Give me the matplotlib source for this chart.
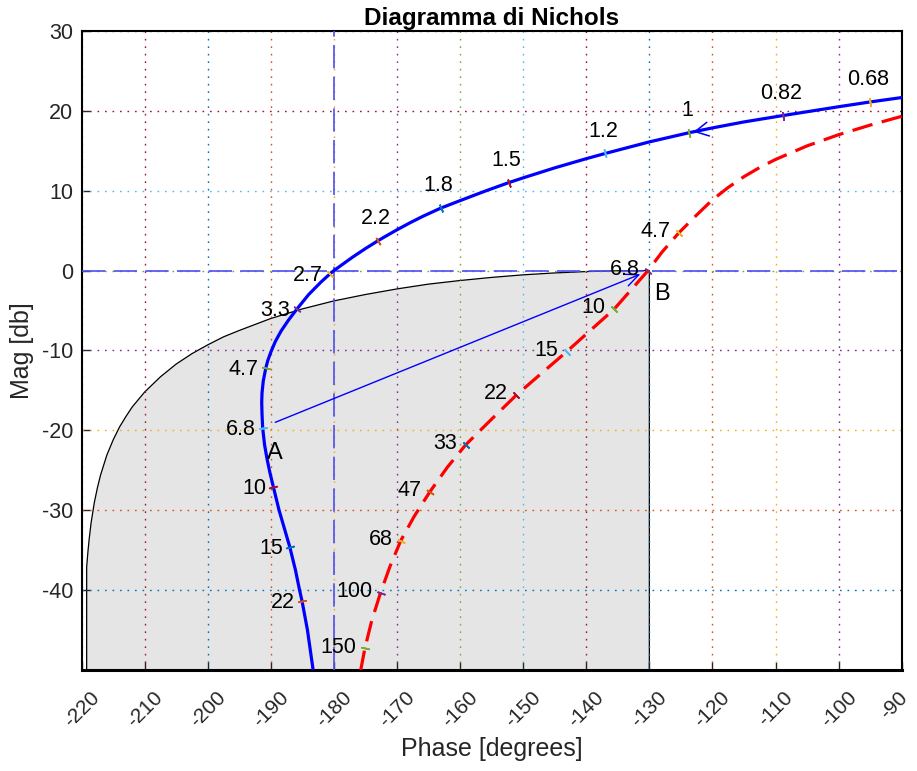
import numpy as np
import matplotlib
matplotlib.use('Agg')
import matplotlib.pyplot as plt
import matplotlib.transforms as mtransforms
from matplotlib.patches import Polygon

plt.rcParams['font.family'] = ['Liberation Sans', 'DejaVu Sans']
plt.rcParams['axes.unicode_minus'] = False

# colour order (matlab default) for grid lines and frequency ticks
order = ['#0072BD', '#D95319', '#EDB120', '#7E2F8E', '#77AC30', '#4DBEEE', '#A2142F']

# uncompensated G(jw): phase [deg], mag [dB]
g_phase = [-90, -95.0, -100, -108.8, -115, -120, -123.7, -130, -137.0, -140, -145,
           -150, -152.3, -156, -160, -163.1, -166, -168, -170, -172, -173.0, -175,
           -177, -178.5, -180, -180.6, -182, -184, -185.9, -187.2, -188.4, -189.3,
           -190.0, -190.5, -190.8, -191.2, -191.4, -191.45, -191.4, -191.3, -191.0,
           -190.6, -190.15, -189.6, -188.7, -187.85, -187.0, -186.1, -185.45,
           -185.05, -184.2, -183.3]
g_mag = [21.65, 21.1, 20.5, 19.4, 18.6, 17.85, 17.25, 16.1, 14.65, 14.0, 12.85,
         11.6, 11.0, 9.95, 8.75, 7.8, 6.75, 5.95, 5.1, 4.2, 3.74, 2.75,
         1.7, 0.85, 0.0, -0.4, -1.4, -3.0, -4.85, -6.2, -7.6, -8.9,
         -10.2, -11.3, -12.2, -13.8, -15.3, -16.5, -18.0, -19.7, -21.8,
         -23.6, -25.3, -27.1, -30.0, -32.3, -34.6, -37.5, -40.0,
         -41.4, -45.0, -50.0]

g_lbl = ['0.68', '0.82', '1', '1.2', '1.5', '1.8', '2.2', '2.7', '3.3', '4.7',
         '6.8', '10', '15', '22']
g_lbl_phase = [-95.0, -108.8, -123.7, -137.0, -152.3, -163.1, -173.0, -180.6,
               -185.9, -190.8, -191.3, -189.6, -187.0, -185.05]
g_lbl_mag = [21.1, 19.4, 17.25, 14.65, 11.0, 7.8, 3.74, -0.4, -4.85, -12.2, -19.7,
             -27.1, -34.6, -41.4]

# compensated C(jw)G(jw)
c_phase = [-90, -95, -100, -105, -110, -112.5, -115, -117.5, -120, -122.5, -125.3,
           -128, -130.2, -135.6, -139.5, -143.1, -147, -151.1, -155, -159.1, -162,
           -164.8, -167.3, -169.4, -171.1, -172.6, -174.0, -175.1, -175.75]
c_mag = [19.3, 18.2, 17.0, 15.6, 13.9, 12.9, 11.75, 10.4, 8.85, 6.95, 4.74,
         2.3, 0.0, -4.85, -7.6, -10.15, -12.8, -15.6, -18.6, -21.8, -24.6,
         -27.7, -30.8, -33.8, -37.0, -40.3, -43.8, -47.3, -50.0]

c_lbl = ['4.7', '6.8', '10', '15', '22', '33', '47', '68', '100', '150']
c_lbl_phase = [-125.3, -130.2, -135.6, -143.1, -151.1, -159.1, -164.8, -169.4,
               -172.6, -175.1]
c_lbl_mag = [4.74, 0.0, -4.85, -10.15, -15.6, -21.8, -27.7, -33.8, -40.3, -47.3]

# boundary of the region reachable with a lead network
bound_phase = [-219.2, -219.2, -219.0, -218.8, -218.5, -218, -217.5, -217, -216,
               -215, -214, -213, -212, -210, -207.5, -205, -202.5, -200, -197.5,
               -195, -190, -185, -180, -175, -170, -165, -160, -155, -150, -145,
               -140, -135, -130, -130]
bound_mag = [-50, -37.1, -35.2, -33.6, -31.6, -29.1, -27.2, -25.6, -23.1,
             -21.2, -19.6, -18.3, -17.1, -15.2, -13.3, -11.7, -10.4, -9.3, -8.3,
             -7.5, -6.0, -4.8, -3.8, -3.0, -2.3, -1.7, -1.25, -0.86, -0.54, -0.30,
             -0.13, -0.03, 0.0, -50]

pt_A = (-189.3, -19.0)
pt_B = (-130.0, 0.0)

xticks = list(range(-220, -89, 10))
yticks = list(range(-40, 31, 10))

fig = plt.figure(figsize=(9.17, 7.71), dpi=100)
ax = fig.add_axes([0.089, 0.131, 0.8943, 0.829])
ax.set_xlim(-220, -90)
ax.set_ylim(-50, 30)

# shaded region
ax.add_patch(Polygon(np.column_stack([bound_phase, bound_mag]), closed=True,
                     facecolor='#e5e5e5', edgecolor='k', lw=0.9, zorder=1))

# coloured dotted grid
dot = (0, (1.2, 4.2))
for i, x in enumerate(xticks):
    ax.axvline(x, color=order[(i + 5) % 7], ls=dot, lw=1.0, zorder=2)
for i, y in enumerate([-50] + yticks):
    ax.axhline(y, color=order[(i + 6) % 7], ls=dot, lw=1.0, zorder=2)

# critical lines
ax.axhline(0, color=(0.3, 0.3, 0.95), lw=1.2, dashes=(14, 5), zorder=3)
ax.axvline(-180, color=(0.3, 0.3, 0.95), lw=1.2, dashes=(14, 5), zorder=3)

# A -> B
ax.annotate('', xy=pt_B, xytext=pt_A,
            arrowprops=dict(arrowstyle='->,head_length=1.0,head_width=0.45',
                            color='blue', lw=1.0, shrinkA=0, shrinkB=7),
            zorder=4)
ax.annotate('A', xy=pt_A, xytext=(0, -22), textcoords='offset points',
            ha='center', va='center', fontsize=17, zorder=7)
ax.annotate('B', xy=pt_B, xytext=(9, -17), textcoords='offset points',
            ha='center', va='center', fontsize=17, zorder=7)

ax.plot(g_phase, g_mag, color='blue', lw=2.3, zorder=5)
ax.plot(c_phase, c_mag, color='red', lw=2.3, dashes=(6.5, 3.0), zorder=5)

# direction arrow on G
ax.annotate('', xy=(-123.0, 17.35), xytext=(-121.0, 17.65),
            arrowprops=dict(arrowstyle='->,head_length=0.95,head_width=0.5',
                            color='blue', lw=1.1, shrinkA=0, shrinkB=0),
            zorder=6)


def tick_angles(cph, cmg, pph, pmg):
    xy = ax.transData.transform(np.column_stack([cph, cmg]))
    pts = ax.transData.transform(np.column_stack([pph, pmg]))
    out = []
    for p in pts:
        i = np.argmin(np.hypot(*(xy - p).T))
        d = xy[min(i + 1, len(xy) - 1)] - xy[max(i - 1, 0)]
        out.append(np.degrees(np.arctan2(d[1], d[0])))
    return out


for k, (x, y, a) in enumerate(zip(g_lbl_phase, g_lbl_mag,
                                  tick_angles(g_phase, g_mag, g_lbl_phase, g_lbl_mag))):
    ax.plot(x, y, marker=(2, 2, a), ms=6, mew=1.2, color=order[(k + 2) % 7], zorder=6)
    if y > 2:
        ax.annotate(g_lbl[k], (x, y), xytext=(-1.5, 16), textcoords='offset points',
                    ha='center', va='center', fontsize=15.5, zorder=7)
    else:
        ax.annotate(g_lbl[k], (x, y), xytext=(-5, -1), textcoords='offset points',
                    ha='right', va='center', fontsize=15.5, zorder=7)

for k, (x, y, a) in enumerate(zip(c_lbl_phase, c_lbl_mag,
                                  tick_angles(c_phase, c_mag, c_lbl_phase, c_lbl_mag))):
    ax.plot(x, y, marker=(2, 2, a), ms=6, mew=1.2, color=order[(k + 2) % 7], zorder=6)
    ax.annotate(c_lbl[k], (x, y), xytext=(-6, 1), textcoords='offset points',
                ha='right', va='center', fontsize=15.5, zorder=7)

ax.set_xticks(xticks)
ax.set_xticklabels([str(v) for v in xticks], rotation=45, ha='center', va='top')
ax.set_yticks(yticks)
ax.tick_params(direction='in', length=6, width=1, colors='#262626', labelsize=15.5)
ax.tick_params(axis='x', pad=13, labelsize=15)
ax.tick_params(axis='y', pad=6)
# keep the last phase label inside the figure
last = ax.get_xticklabels()[-1]
last.set_transform(last.get_transform() +
                   mtransforms.ScaledTranslation(-8 / 100, 0, fig.dpi_scale_trans))
for s in ax.spines.values():
    s.set_linewidth(1.5)
    s.set_color('k')
ax.spines['bottom'].set_linewidth(2.2)

ax.set_xlabel('Phase [degrees]', fontsize=18, color='#262626', labelpad=4)
ax.set_ylabel('Mag [db]', fontsize=18, color='#262626', labelpad=6)
ax.set_title('Diagramma di Nichols', fontsize=17.5, fontweight='bold', pad=4)

fig.savefig('out.png', dpi=100)
